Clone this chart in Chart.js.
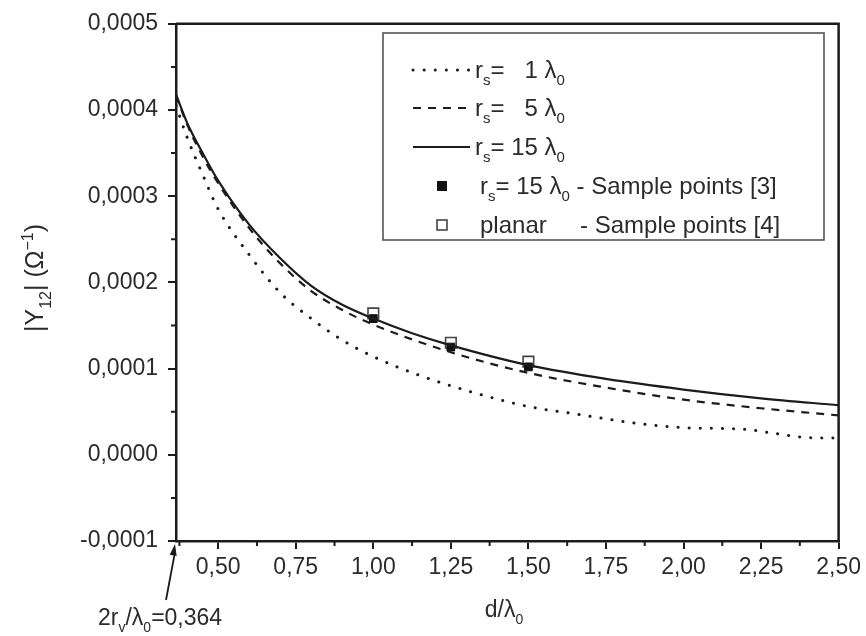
<!DOCTYPE html>
<html>
<head>
<meta charset="utf-8">
<script src="https://cdn.jsdelivr.net/npm/chart.js@4/dist/chart.umd.min.js"></script>
<style>
  html, body { margin: 0; padding: 0; background: #fff; }
  #wrap { width: 866px; height: 636px; }
</style>
</head>
<body>
<div id="wrap"><canvas id="chart" width="866" height="636"></canvas></div>
<script>
// values
var xTicks = [0.5, 0.75, 1.0, 1.25, 1.5, 1.75, 2.0, 2.25, 2.5];
var xMinor = [0.375, 0.625, 0.875, 1.125, 1.375, 1.625, 1.875, 2.125, 2.375];
var yTicks = [-0.0001, 0, 0.0001, 0.0002, 0.0003, 0.0004, 0.0005];
var yMinor = [-0.00005, 0.00005, 0.00015, 0.00025, 0.00035, 0.00045];

var x1 = [0.364, 0.4, 0.45, 0.5, 0.6, 0.7, 0.8, 0.9, 1.0, 1.15, 1.33, 1.5, 1.65, 1.85, 2.0, 2.2, 2.3, 2.4, 2.5];
var y1 = [0.000405, 0.000368, 0.000325, 0.000285, 0.000232, 0.000188, 0.000158, 0.000133, 0.000114, 0.000092, 0.0000715, 0.000056, 0.0000475, 0.0000365, 0.0000315, 0.0000295, 0.0000245, 0.00002, 0.0000195];

var x5 = [0.364, 0.4, 0.45, 0.5, 0.6, 0.7, 0.8, 0.9, 1.0, 1.25, 1.5, 1.75, 2.0, 2.25, 2.5];
var y5 = [0.000417, 0.000383, 0.000346, 0.000315, 0.000263, 0.000222, 0.00019, 0.000168, 0.000151, 0.000119, 0.000095, 0.000078, 0.000064, 0.000054, 0.0000457];

var x15 = [0.364, 0.4, 0.45, 0.5, 0.6, 0.7, 0.8, 0.9, 1.0, 1.125, 1.25, 1.5, 1.75, 2.0, 2.25, 2.5];
var y15 = [0.000418, 0.000385, 0.00035, 0.000318, 0.000267, 0.000228, 0.000196, 0.000174, 0.000158, 0.000141, 0.000127, 0.000104, 0.000088, 0.0000757, 0.0000655, 0.0000575];

var xSample3 = [1.0, 1.25, 1.5];
var ySample3 = [0.000158, 0.000125, 0.000102];
var xSample4 = [1.0, 1.25, 1.5];
var ySample4 = [0.000164, 0.00013, 0.000108];

// label pieces: [text, kind] kind = '' | 'sub' | 'sup'
var legendLabels = [
    [['r', ''], ['s', 'sub'], ['=   1 λ', ''], ['0', 'sub']],
    [['r', ''], ['s', 'sub'], ['=   5 λ', ''], ['0', 'sub']],
    [['r', ''], ['s', 'sub'], ['= 15 λ', ''], ['0', 'sub']],
    [['r', ''], ['s', 'sub'], ['= 15 λ', ''], ['0', 'sub'], [' - Sample points [3]', '']],
    [['planar     - Sample points [4]', '']]
];
var yTitle = [['|Y', ''], ['12', 'sub'], ['| (Ω', ''], ['−1', 'sup'], [')', '']];
var xTitle = [['d/λ', ''], ['0', 'sub']];
var note = [['2r', ''], ['v', 'sub'], ['/λ', ''], ['0', 'sub'], ['=0,364', '']];

var FONT = '"Liberation Sans", Arial, Helvetica, sans-serif';
var INK = '#1c1c1c';
var TXT = '#2b2b2b';

function pts(xs, ys) {
    var out = [];
    for (let i = 0; i < xs.length; i++) out.push({x: xs[i], y: ys[i]});
    return out;
}

function segFont(size, kind) {
    let s = kind ? Math.round(size * 0.62) : size;
    return s + 'px ' + FONT;
}

function richWidth(ctx, segs, size) {
    let w = 0;
    for (let i = 0; i < segs.length; i++) {
        ctx.font = segFont(size, segs[i][1]);
        w += ctx.measureText(segs[i][0]).width;
    }
    return w;
}

function drawRich(ctx, segs, x, y, size, align) {
    let w = richWidth(ctx, segs, size);
    let cx = align == 'center' ? x - w / 2 : (align == 'right' ? x - w : x);
    ctx.textBaseline = 'alphabetic';
    ctx.textAlign = 'left';
    for (let i = 0; i < segs.length; i++) {
        let kind = segs[i][1];
        ctx.font = segFont(size, kind);
        let dy = kind == 'sub' ? size * 0.3 : (kind == 'sup' ? -size * 0.42 : 0);
        ctx.fillText(segs[i][0], cx, y + dy);
        cx += ctx.measureText(segs[i][0]).width;
    }
}

var extras = {
    id: 'extras',
    afterDraw: function(chart) {
        let ctx = chart.ctx;
        let a = chart.chartArea;
        let xs = chart.scales.x, ys = chart.scales.y;
        ctx.save();

        // frame top + right
        ctx.strokeStyle = INK;
        ctx.lineWidth = 2.5;
        ctx.beginPath();
        ctx.moveTo(a.left, a.top);
        ctx.lineTo(a.right, a.top);
        ctx.lineTo(a.right, a.bottom);
        ctx.stroke();

        // minor ticks
        ctx.lineWidth = 2;
        ctx.beginPath();
        for (let i = 0; i < xMinor.length; i++) {
            let px = xs.getPixelForValue(xMinor[i]);
            ctx.moveTo(px, a.bottom);
            ctx.lineTo(px, a.bottom + 5);
        }
        for (let i = 0; i < yMinor.length; i++) {
            let py = ys.getPixelForValue(yMinor[i]);
            ctx.moveTo(a.left, py);
            ctx.lineTo(a.left - 5, py);
        }
        ctx.stroke();

        // legend
        let lx = 383, ly = 33, lw = 441, lh = 207;
        ctx.fillStyle = '#fff';
        ctx.fillRect(lx, ly, lw, lh);
        ctx.strokeStyle = '#555';
        ctx.lineWidth = 1.6;
        ctx.strokeRect(lx, ly, lw, lh);
        let rows = [70, 108, 147, 186, 225];
        let dsets = chart.data.datasets;
        for (let i = 0; i < dsets.length; i++) {
            let d = dsets[i];
            let ry = rows[i];
            if (d.showLine) {
                ctx.strokeStyle = d.borderColor;
                ctx.lineWidth = d.borderWidth;
                ctx.lineCap = d.borderCapStyle || 'butt';
                ctx.setLineDash(d.borderDash || []);
                ctx.beginPath();
                ctx.moveTo(413, ry);
                ctx.lineTo(470, ry);
                ctx.stroke();
                ctx.setLineDash([]);
            } else {
                let s = i == 3 ? 9 : 10;
                ctx.fillStyle = d.backgroundColor;
                ctx.fillRect(442 - s / 2, ry - s / 2, s, s);
                ctx.strokeStyle = d.borderColor;
                ctx.lineWidth = d.pointBorderWidth;
                ctx.strokeRect(442 - s / 2, ry - s / 2, s, s);
            }
            ctx.fillStyle = TXT;
            drawRich(ctx, legendLabels[i], d.showLine ? 475 : 480, ry + 8, 24, 'left');
        }

        // axis titles
        ctx.fillStyle = TXT;
        drawRich(ctx, xTitle, 504, 617, 23, 'center');
        ctx.save();
        ctx.translate(43, 278);
        ctx.rotate(-Math.PI / 2);
        drawRich(ctx, yTitle, 0, 0, 25, 'center');
        ctx.restore();

        // arrow to the start value
        let tipX = xs.getPixelForValue(0.364) - 1, tipY = a.bottom + 3;
        let tailX = tipX - 9, tailY = tipY + 56;
        ctx.strokeStyle = INK;
        ctx.lineWidth = 1.8;
        ctx.beginPath();
        ctx.moveTo(tailX, tailY);
        ctx.lineTo(tipX, tipY + 8);
        ctx.stroke();
        let ang = Math.atan2(tipY - tailY, tipX - tailX);
        ctx.fillStyle = INK;
        ctx.beginPath();
        ctx.moveTo(tipX, tipY);
        ctx.lineTo(tipX - 12 * Math.cos(ang - 0.3), tipY - 12 * Math.sin(ang - 0.3));
        ctx.lineTo(tipX - 12 * Math.cos(ang + 0.3), tipY - 12 * Math.sin(ang + 0.3));
        ctx.closePath();
        ctx.fill();
        ctx.fillStyle = TXT;
        drawRich(ctx, note, 98, 625, 23, 'left');

        ctx.restore();
    }
};

var ctx = document.getElementById('chart').getContext('2d');
var chart = new Chart(ctx, {
    type: 'scatter',
    data: {
        datasets: [
            {
                label: 'rs = 1 λ0',
                data: pts(x1, y1),
                showLine: true,
                borderColor: INK,
                borderWidth: 3,
                borderDash: [0.1, 11],
                borderCapStyle: 'round',
                pointRadius: 0,
                cubicInterpolationMode: 'monotone'
            },
            {
                label: 'rs = 5 λ0',
                data: pts(x5, y5),
                showLine: true,
                borderColor: INK,
                borderWidth: 2.2,
                borderDash: [8, 7],
                pointRadius: 0,
                cubicInterpolationMode: 'monotone'
            },
            {
                label: 'rs = 15 λ0',
                data: pts(x15, y15),
                showLine: true,
                borderColor: INK,
                borderWidth: 2.2,
                pointRadius: 0,
                cubicInterpolationMode: 'monotone'
            },
            {
                label: 'rs = 15 λ0 - Sample points [3]',
                data: pts(xSample3, ySample3),
                showLine: false,
                pointStyle: 'rect',
                pointRadius: 5.5,
                backgroundColor: '#111',
                borderColor: '#111',
                pointBorderWidth: 1
            },
            {
                label: 'planar - Sample points [4]',
                data: pts(xSample4, ySample4),
                showLine: false,
                pointStyle: 'rect',
                pointRadius: 7.5,
                backgroundColor: 'rgba(255,255,255,0)',
                borderColor: '#444',
                pointBorderWidth: 1.6
            }
        ]
    },
    options: {
        responsive: false,
        animation: false,
        layout: { padding: { top: 16, right: 27, left: 0, bottom: 0 } },
        plugins: {
            legend: { display: false },
            tooltip: { enabled: false }
        },
        scales: {
            x: {
                type: 'linear',
                min: 0.364,
                max: 2.5,
                afterBuildTicks: function(scale) {
                    scale.ticks = xTicks.map(v => ({value: v}));
                },
                afterFit: function(scale) { scale.height = 95; },
                border: { display: true, color: INK, width: 2.5 },
                grid: { drawOnChartArea: false, drawTicks: true, tickLength: 8, color: INK, lineWidth: 2 },
                ticks: {
                    color: TXT,
                    padding: 5,
                    maxRotation: 0,
                    autoSkip: false,
                    font: { family: FONT, size: 23 },
                    callback: function(v) { return v.toFixed(2).replace('.', ','); }
                }
            },
            y: {
                type: 'linear',
                min: -0.0001,
                max: 0.0005,
                afterBuildTicks: function(scale) {
                    scale.ticks = yTicks.map(v => ({value: v}));
                },
                afterFit: function(scale) { scale.width = 176; },
                border: { display: true, color: INK, width: 2.5 },
                grid: { drawOnChartArea: false, drawTicks: true, tickLength: 8, color: INK, lineWidth: 2 },
                ticks: {
                    color: TXT,
                    padding: 10,
                    autoSkip: false,
                    font: { family: FONT, size: 23 },
                    callback: function(v) { return v.toFixed(4).replace('.', ','); }
                }
            }
        }
    },
    plugins: [extras]
});
</script>
</body>
</html>
